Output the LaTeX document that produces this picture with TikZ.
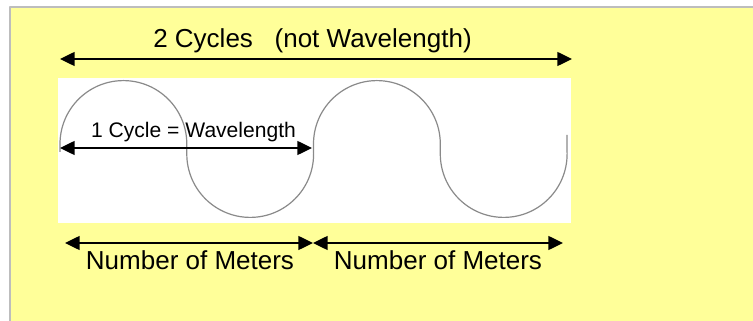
\documentclass[tikz,border=0pt]{standalone}
\usepackage{fontspec}
\setmainfont{Liberation Sans}
\usetikzlibrary{arrows.meta}
\definecolor{NoteYellow}{HTML}{FFFF99}
\definecolor{FrameGray}{HTML}{BDBDBD}
\definecolor{WaveGray}{HTML}{8A8A8A}
\tikzset{
  span/.style={line width=1.05pt,{Triangle[length=11pt,width=10.5pt]}-{Triangle[length=11pt,width=10.5pt]}},
  biglabel/.style={font=\fontsize{19.5}{22}\selectfont,text=black,inner sep=0pt,anchor=base},
  smalllabel/.style={font=\fontsize{15.8}{18}\selectfont,text=black,inner sep=0pt,anchor=base},
  wave/.style={draw=WaveGray,line width=0.9pt},
}

\begin{document}
\begin{tikzpicture}[x=0.75pt,y=0.75pt,line join=round]

% Page and panel
\useasboundingbox (0,0) rectangle (753,321);
\fill[white] (0,0) rectangle (753,321);
\fill[NoteYellow] (10,0) rectangle (753,314);
\draw[FrameGray,line width=1.1pt] (10,-5) -- (10,314) -- (760,314);

% White strip behind the wave
\fill[white] (58,98) rectangle (571,243);

% Wave: four half cycles
\def\r{63.4}
\draw[wave] (60,169) -- (60,177)
  arc[start angle=180,end angle=0,radius=\r] -- (186.8,167)
  arc[start angle=180,end angle=360,radius=\r] -- (313.5,177)
  arc[start angle=180,end angle=0,radius=\r] -- (440.3,167)
  arc[start angle=180,end angle=360,radius=\r] -- (567,186);

% Arrow ends
\coordinate (twoL) at (60,262);
\coordinate (twoR) at (572,262);
\coordinate (oneL) at (60,173);
\coordinate (oneR) at (312,173);
\coordinate (metA) at (65,78);
\coordinate (metB) at (313,78);
\coordinate (metC) at (563,78);

% Arrows
\draw[span] (twoL) -- (twoR);
\draw[span] (oneL) -- (oneR);
\draw[span] (metA) -- (metB);
\draw[span] (metB) -- (metC);

% Labels
\node[biglabel] (twocycles) at (312.5,273) {2 Cycles\ \ \ (not Wavelength)};
\node[smalllabel] (onecycle) at (193.5,183) {1 Cycle = Wavelength};
\node[biglabel] (metersA) at (190,51) {Number of Meters};
\node[biglabel] (metersB) at (438,51) {Number of Meters};

\end{tikzpicture}
\end{document}
